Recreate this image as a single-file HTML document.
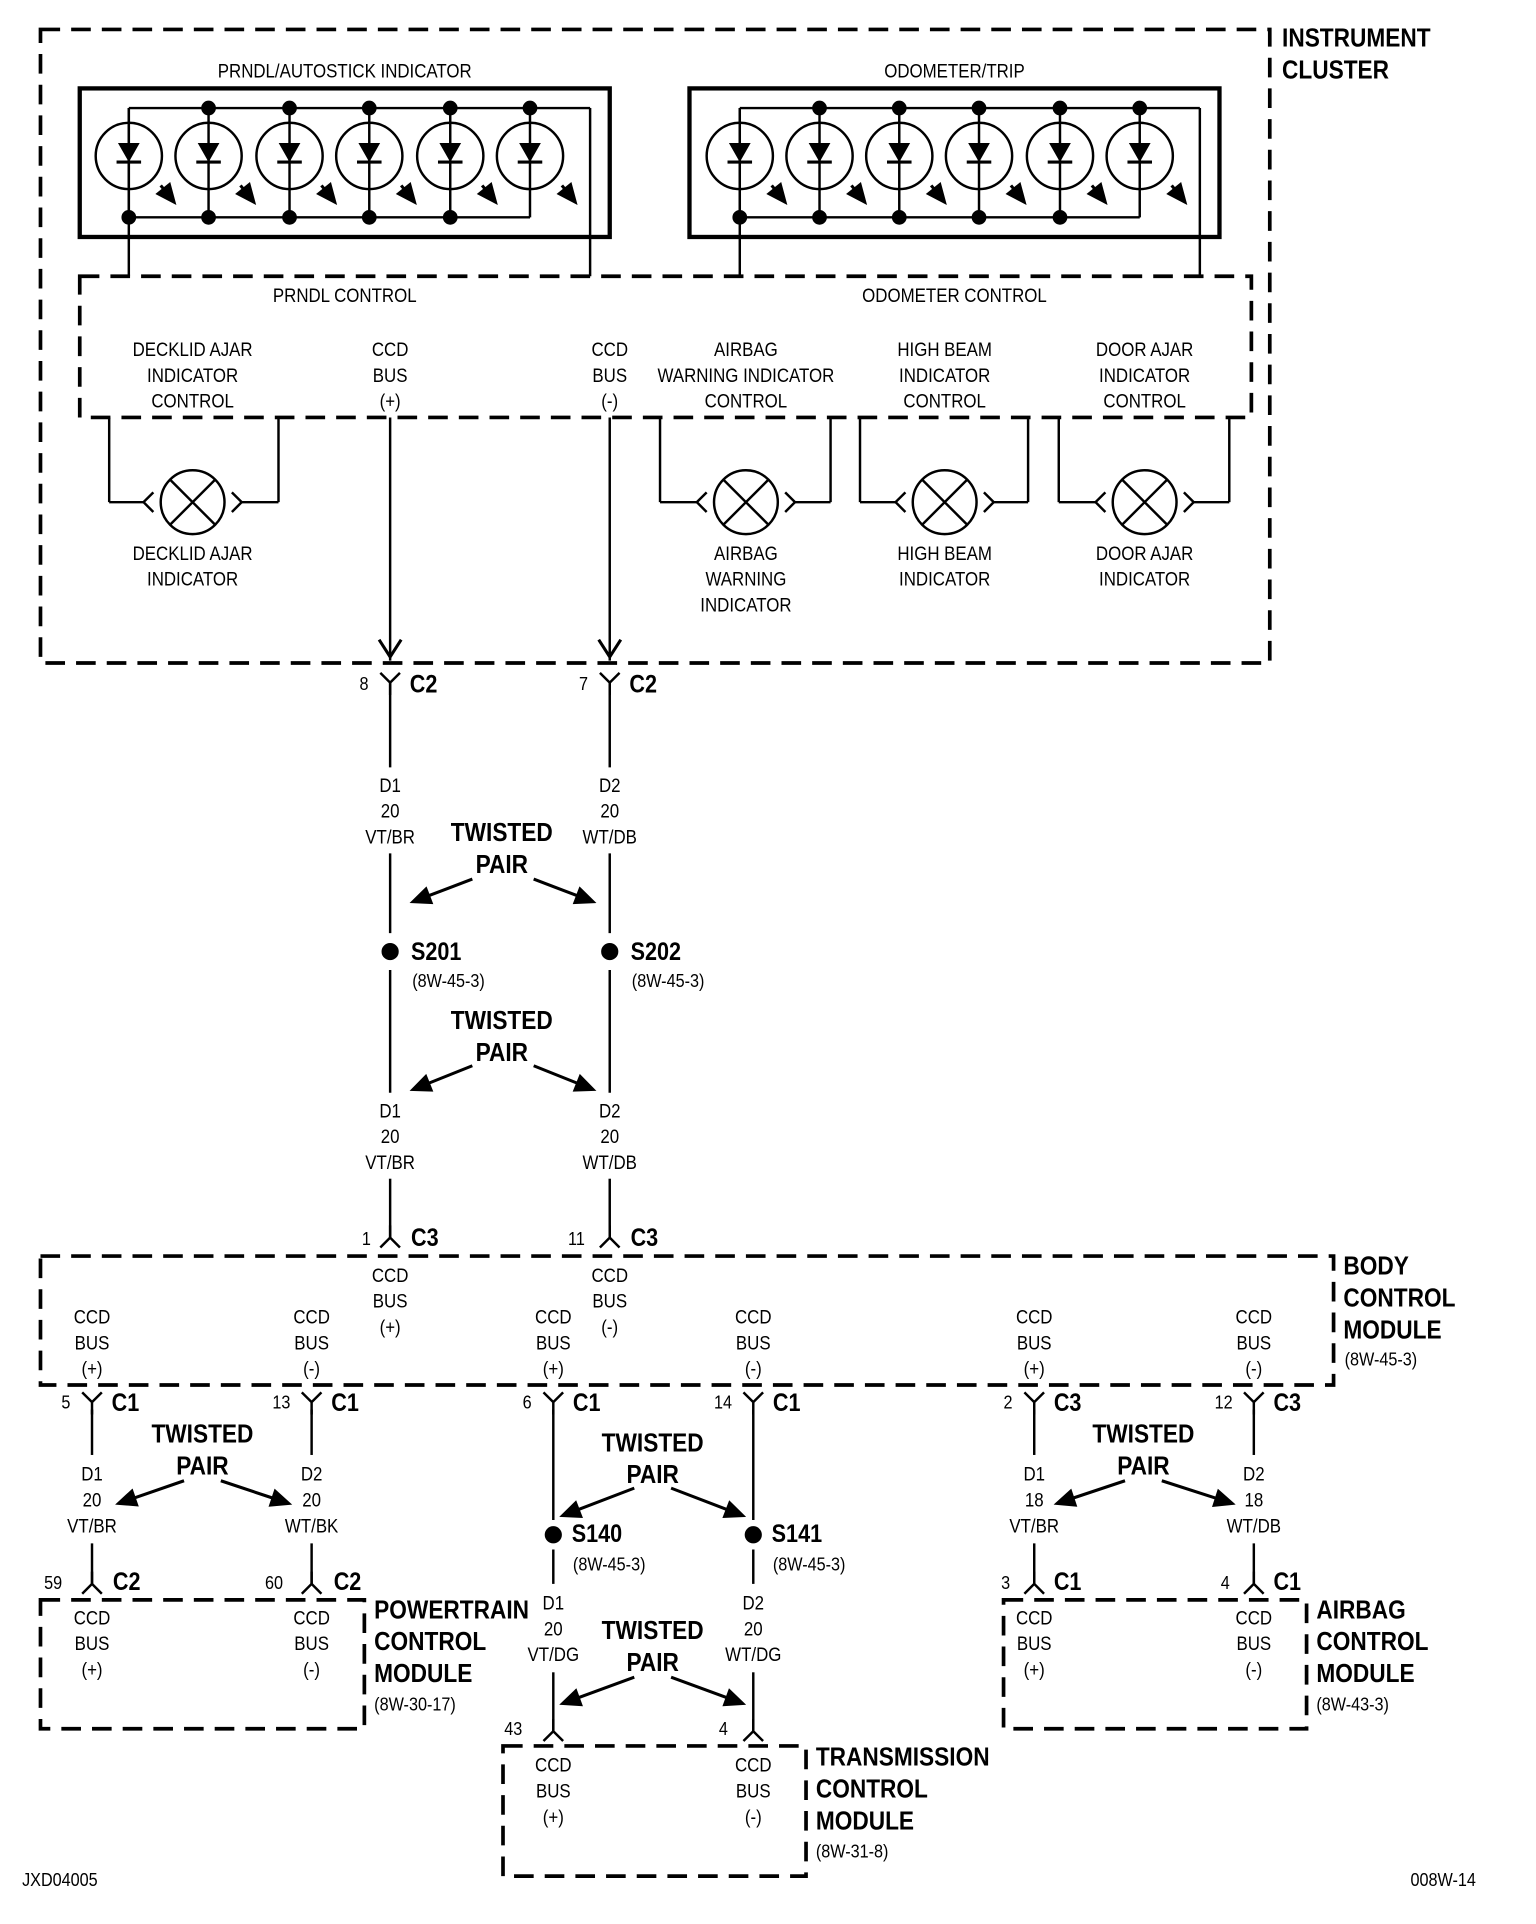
<!DOCTYPE html>
<html><head><meta charset="utf-8"><style>
html,body{margin:0;padding:0;background:#fff;}
svg{display:block}
text{font-family:"Liberation Sans Narrow","Liberation Sans",sans-serif;fill:#000;transform-box:fill-box;}
.n{font-size:16px;text-anchor:middle;transform-origin:center;transform:scaleX(0.86)}
.b{font-size:21px;font-weight:bold;transform-origin:left;transform:scaleX(0.88)}
.bm{font-size:21px;font-weight:bold;text-anchor:middle;transform-origin:center;transform:scaleX(0.88)}
.s{font-size:15px;transform-origin:left;transform:scaleX(0.88)}
.cb{font-size:20px;font-weight:bold;transform-origin:left;transform:scaleX(0.88)}
.e{transform-origin:right !important}
</style></head><body>
<svg id="sv" width="1536" height="1924" viewBox="0 0 1252 1567" preserveAspectRatio="none" xmlns="http://www.w3.org/2000/svg">
<g id="g" stroke="#000" fill="none" stroke-width="2"></g>

<text class="b" x="1045" y="38">INSTRUMENT</text>
<text class="b" x="1045" y="64">CLUSTER</text>
<text class="n" x="281" y="63">PRNDL/AUTOSTICK INDICATOR</text>
<text class="n" x="778" y="63">ODOMETER/TRIP</text>
<text class="n" x="281" y="246">PRNDL CONTROL</text>
<text class="n" x="778" y="246">ODOMETER CONTROL</text>

<text class="n" x="157" y="290">DECKLID AJAR</text><text class="n" x="157" y="311">INDICATOR</text><text class="n" x="157" y="332">CONTROL</text>
<text class="n" x="318" y="290">CCD</text><text class="n" x="318" y="311">BUS</text><text class="n" x="318" y="332">(+)</text>
<text class="n" x="497" y="290">CCD</text><text class="n" x="497" y="311">BUS</text><text class="n" x="497" y="332">(-)</text>
<text class="n" x="608" y="290">AIRBAG</text><text class="n" x="608" y="311">WARNING INDICATOR</text><text class="n" x="608" y="332">CONTROL</text>
<text class="n" x="770" y="290">HIGH BEAM</text><text class="n" x="770" y="311">INDICATOR</text><text class="n" x="770" y="332">CONTROL</text>
<text class="n" x="933" y="290">DOOR AJAR</text><text class="n" x="933" y="311">INDICATOR</text><text class="n" x="933" y="332">CONTROL</text>

<text class="n" x="157" y="456">DECKLID AJAR</text><text class="n" x="157" y="477">INDICATOR</text>
<text class="n" x="608" y="456">AIRBAG</text><text class="n" x="608" y="477">WARNING</text><text class="n" x="608" y="498">INDICATOR</text>
<text class="n" x="770" y="456">HIGH BEAM</text><text class="n" x="770" y="477">INDICATOR</text>
<text class="n" x="933" y="456">DOOR AJAR</text><text class="n" x="933" y="477">INDICATOR</text>

<text class="s" x="293" y="562">8</text><text class="cb" x="334" y="564">C2</text>
<text class="s" x="472" y="562">7</text><text class="cb" x="513" y="564">C2</text>

<text class="n" x="318" y="645">D1</text><text class="n" x="318" y="666">20</text><text class="n" x="318" y="687">VT/BR</text>
<text class="n" x="497" y="645">D2</text><text class="n" x="497" y="666">20</text><text class="n" x="497" y="687">WT/DB</text>
<text class="bm" x="409" y="685">TWISTED</text><text class="bm" x="409" y="711">PAIR</text>

<text class="cb" x="335" y="782">S201</text><text class="s" x="336" y="804">(8W-45-3)</text>
<text class="cb" x="514" y="782">S202</text><text class="s" x="515" y="804">(8W-45-3)</text>

<text class="bm" x="409" y="838">TWISTED</text><text class="bm" x="409" y="864">PAIR</text>
<text class="n" x="318" y="910">D1</text><text class="n" x="318" y="931">20</text><text class="n" x="318" y="952">VT/BR</text>
<text class="n" x="497" y="910">D2</text><text class="n" x="497" y="931">20</text><text class="n" x="497" y="952">WT/DB</text>

<text class="s" x="295" y="1014">1</text><text class="cb" x="335" y="1015">C3</text>
<text class="s" x="463" y="1014">11</text><text class="cb" x="514" y="1015">C3</text>

<text class="b" x="1095" y="1038">BODY</text><text class="b" x="1095" y="1064">CONTROL</text><text class="b" x="1095" y="1090">MODULE</text>
<text class="s" x="1096" y="1112">(8W-45-3)</text>
<text class="n" x="318" y="1044">CCD</text><text class="n" x="318" y="1065">BUS</text><text class="n" x="318" y="1086">(+)</text>
<text class="n" x="497" y="1044">CCD</text><text class="n" x="497" y="1065">BUS</text><text class="n" x="497" y="1086">(-)</text>
<text class="n" x="75" y="1078">CCD</text><text class="n" x="75" y="1099">BUS</text><text class="n" x="75" y="1120">(+)</text>
<text class="n" x="254" y="1078">CCD</text><text class="n" x="254" y="1099">BUS</text><text class="n" x="254" y="1120">(-)</text>
<text class="n" x="451" y="1078">CCD</text><text class="n" x="451" y="1099">BUS</text><text class="n" x="451" y="1120">(+)</text>
<text class="n" x="614" y="1078">CCD</text><text class="n" x="614" y="1099">BUS</text><text class="n" x="614" y="1120">(-)</text>
<text class="n" x="843" y="1078">CCD</text><text class="n" x="843" y="1099">BUS</text><text class="n" x="843" y="1120">(+)</text>
<text class="n" x="1022" y="1078">CCD</text><text class="n" x="1022" y="1099">BUS</text><text class="n" x="1022" y="1120">(-)</text>

<text class="s" x="50" y="1147">5</text><text class="cb" x="91" y="1149">C1</text>
<text class="s" x="222" y="1147">13</text><text class="cb" x="270" y="1149">C1</text>
<text class="s" x="426" y="1147">6</text><text class="cb" x="467" y="1149">C1</text>
<text class="s" x="582" y="1147">14</text><text class="cb" x="630" y="1149">C1</text>
<text class="s" x="818" y="1147">2</text><text class="cb" x="859" y="1149">C3</text>
<text class="s" x="990" y="1147">12</text><text class="cb" x="1038" y="1149">C3</text>

<text class="bm" x="165" y="1175">TWISTED</text><text class="bm" x="165" y="1201">PAIR</text>
<text class="n" x="75" y="1206">D1</text><text class="n" x="75" y="1227">20</text><text class="n" x="75" y="1248">VT/BR</text>
<text class="n" x="254" y="1206">D2</text><text class="n" x="254" y="1227">20</text><text class="n" x="254" y="1248">WT/BK</text>
<text class="s" x="36" y="1294">59</text><text class="cb" x="92" y="1295">C2</text>
<text class="s" x="216" y="1294">60</text><text class="cb" x="272" y="1295">C2</text>
<text class="n" x="75" y="1323">CCD</text><text class="n" x="75" y="1344">BUS</text><text class="n" x="75" y="1365">(+)</text>
<text class="n" x="254" y="1323">CCD</text><text class="n" x="254" y="1344">BUS</text><text class="n" x="254" y="1365">(-)</text>
<text class="b" x="305" y="1318">POWERTRAIN</text><text class="b" x="305" y="1344">CONTROL</text><text class="b" x="305" y="1370">MODULE</text>
<text class="s" x="305" y="1393">(8W-30-17)</text>

<text class="bm" x="532" y="1182">TWISTED</text><text class="bm" x="532" y="1208">PAIR</text>
<text class="cb" x="466" y="1256">S140</text><text class="s" x="467" y="1279">(8W-45-3)</text>
<text class="cb" x="629" y="1256">S141</text><text class="s" x="630" y="1279">(8W-45-3)</text>
<text class="n" x="451" y="1311">D1</text><text class="n" x="451" y="1332">20</text><text class="n" x="451" y="1353">VT/DG</text>
<text class="n" x="614" y="1311">D2</text><text class="n" x="614" y="1332">20</text><text class="n" x="614" y="1353">WT/DG</text>
<text class="bm" x="532" y="1335">TWISTED</text><text class="bm" x="532" y="1361">PAIR</text>
<text class="s" x="411" y="1413">43</text>
<text class="s" x="586" y="1413">4</text>
<text class="n" x="451" y="1443">CCD</text><text class="n" x="451" y="1464">BUS</text><text class="n" x="451" y="1485">(+)</text>
<text class="n" x="614" y="1443">CCD</text><text class="n" x="614" y="1464">BUS</text><text class="n" x="614" y="1485">(-)</text>
<text class="b" x="665" y="1438">TRANSMISSION</text><text class="b" x="665" y="1464">CONTROL</text><text class="b" x="665" y="1490">MODULE</text>
<text class="s" x="665" y="1513">(8W-31-8)</text>

<text class="bm" x="932" y="1175">TWISTED</text><text class="bm" x="932" y="1201">PAIR</text>
<text class="n" x="843" y="1206">D1</text><text class="n" x="843" y="1227">18</text><text class="n" x="843" y="1248">VT/BR</text>
<text class="n" x="1022" y="1206">D2</text><text class="n" x="1022" y="1227">18</text><text class="n" x="1022" y="1248">WT/DB</text>
<text class="s" x="816" y="1294">3</text><text class="cb" x="859" y="1295">C1</text>
<text class="s" x="995" y="1294">4</text><text class="cb" x="1038" y="1295">C1</text>
<text class="n" x="843" y="1323">CCD</text><text class="n" x="843" y="1344">BUS</text><text class="n" x="843" y="1365">(+)</text>
<text class="n" x="1022" y="1323">CCD</text><text class="n" x="1022" y="1344">BUS</text><text class="n" x="1022" y="1365">(-)</text>
<text class="b" x="1073" y="1318">AIRBAG</text><text class="b" x="1073" y="1344">CONTROL</text><text class="b" x="1073" y="1370">MODULE</text>
<text class="s" x="1073" y="1393">(8W-43-3)</text>

<text class="s" x="18" y="1536">JXD04005</text>
<text class="s e" x="1203" y="1536" text-anchor="end">008W-14</text>
</svg>
<script>
var g=document.getElementById('g'),NS='http://www.w3.org/2000/svg';
function el(t,a){var e=document.createElementNS(NS,t);for(var k in a)e.setAttribute(k,a[k]);g.appendChild(e);return e;}
function L(x1,y1,x2,y2,w){el('line',{x1:x1,y1:y1,x2:x2,y2:y2,'stroke-width':w||2});}
function P(d,w,f){el('path',{d:d,'stroke-width':w||2,fill:f||'none'});}
function dash(x1,y1,x2,y2){el('rect',{x:x1,y:y1,width:x2-x1,height:y2-y1,'stroke-width':3,'stroke-dasharray':'16 9'});}
function dot(x,y,r){el('circle',{cx:x,cy:y,r:r||5,fill:'#000'});}
function arr(x1,y1,x2,y2){var dx=x2-x1,dy=y2-y1,l=Math.hypot(dx,dy),ux=dx/l,uy=dy/l;var bx=x2-ux*16,by=y2-uy*16;L(x1,y1,bx,by,2.5);P('M'+x2+','+y2+'L'+(bx-uy*7)+','+(by+ux*7)+'L'+(bx+uy*7)+','+(by-ux*7)+'Z',1,'#000');}
dash(33,24,1035,540);
dash(65,225,1020,340);
dash(33,1023,1087,1128);
dash(33,1303,297,1408);
dash(410,1422,657,1528);
dash(818,1303,1065,1408);
function arrayBox(bx,xs,rx){
 el('rect',{x:bx,y:72,width:432,height:121,'stroke-width':3.5});
 L(xs[0],88,rx,88);L(rx,88,rx,225);L(xs[0],177,xs[5],177);L(xs[0],88,xs[0],225);
 xs.forEach(function(x,i){
  el('circle',{cx:x,cy:127,r:27});L(x,88,x,177);
  P('M'+(x-8)+',117L'+(x+8)+',117L'+x+',131Z',1,'#000');L(x-10,132,x+10,132,2.5);
  arr(x+26,151,x+38,166);
  if(i>0)dot(x,88,5);
  if(i<5)dot(x,177,5);
 });
}
arrayBox(65,[105,170,236,301,367,432],481);
arrayBox(562,[603,668,733,798,864,929],978);
function lamp(xl,xc,xr){
 L(xl,340,xl,409);L(xl,409,xc-40,409);
 P('M'+(xc-32)+',401L'+(xc-40)+',409L'+(xc-32)+',417');
 el('circle',{cx:xc,cy:409,r:26});
 var d=26*0.707;L(xc-d,409-d,xc+d,409+d);L(xc-d,409+d,xc+d,409-d);
 P('M'+(xc+32)+',401L'+(xc+40)+',409L'+(xc+32)+',417');
 L(xc+40,409,xr,409);L(xr,409,xr,340);
}
lamp(89,157,227);lamp(538,608,677);lamp(701,770,838);lamp(863,933,1002);
function Yd(x,y){P('M'+(x-8)+','+(y-8)+'L'+x+','+y+'L'+(x+8)+','+(y-8)+'M'+x+','+y+'L'+x+','+(y+10));}
function Yu(x,y){P('M'+(x-8)+','+(y+8)+'L'+x+','+y+'L'+(x+8)+','+(y+8)+'M'+x+','+y+'L'+x+','+(y-10));}
[318,497].forEach(function(x){
 L(x,340,x,538);P('M'+(x-9)+',521L'+x+',535L'+(x+9)+',521',2.5);
 Yd(x,556);L(x,556,x,625);
 L(x,695,x,760);dot(x,775,6);L(x,790,x,890);
 L(x,960,x,1008);Yu(x,1008);
});
arr(385,716,335,735);arr(435,716,485,735);
arr(385,868,335,888);arr(435,868,485,888);
[75,254,451,614,843,1022].forEach(function(x){Yd(x,1142);});
[75,254,843,1022].forEach(function(x){L(x,1148,x,1185);L(x,1257,x,1290);Yu(x,1290);});
arr(150,1206,95,1225);arr(180,1206,237,1225);
arr(917,1206,860,1225);arr(947,1206,1006,1225);
[451,614].forEach(function(x){L(x,1148,x,1238);dot(x,1250,6);L(x,1262,x,1290);L(x,1362,x,1410);Yu(x,1410);});
arr(517,1212,457,1235);arr(547,1212,607,1235);
arr(517,1366,457,1388);arr(547,1366,607,1388);
</script>
</body></html>
